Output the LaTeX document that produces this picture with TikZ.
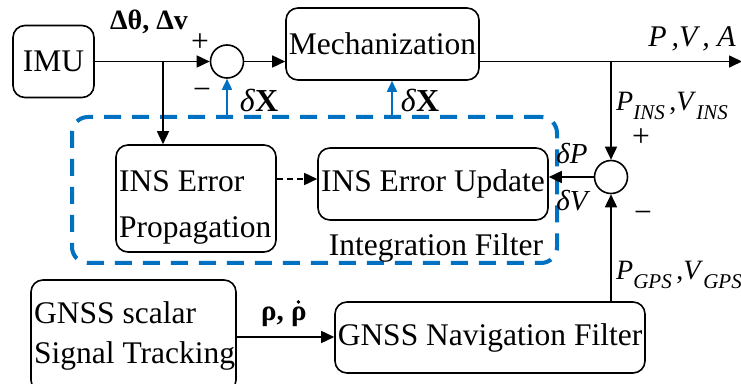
\documentclass[tikz,border=0pt]{standalone}
\usepackage{fontspec}
\setmainfont{Liberation Serif}
\usetikzlibrary{arrows.meta}
\definecolor{fblue}{RGB}{0,112,192}
\newcommand\mysub[1]{\raisebox{-0.34em}{\fontsize{21}{21}\selectfont\itshape #1}}

\begin{document}
\begin{tikzpicture}[x=1pt,y=1pt,
  font=\fontsize{31.5}{36}\selectfont,
  blk/.style={draw, line width=1.6pt, rounded corners=12pt, inner sep=0pt},
  sumc/.style={draw, circle, line width=1.6pt, minimum size=33pt, inner sep=0pt},
  sig/.style={line width=1.6pt, -{Triangle[length=13pt,width=12pt]}},
  dsig/.style={sig, dash pattern=on 6pt off 4pt},
  bsig/.style={fblue, line width=1.6pt, -{Triangle[length=11pt,width=10pt]}},
  lbl/.style={inner sep=0pt},
  sml/.style={lbl, font=\fontsize{28}{30}\selectfont}]
\useasboundingbox (0,0) rectangle (741,383);

% integration filter frame
\node[draw=fblue, line width=4pt, dash pattern=on 17pt off 11pt,
      rounded corners=16pt, minimum width=485pt, minimum height=146pt]
      (ifbox) at (314.5,193) {};

% blocks
\node[blk, minimum width=81pt, minimum height=72pt] (imu) at (53.5,321.5) {IMU};
\node[sumc] (sum1) at (227,321.5) {};
\node[blk, minimum width=193pt, minimum height=72pt] (mech) at (382.5,339) {Mechanization};
\node[blk, minimum width=160pt, minimum height=107pt] (prop) at (196,184.5) {};
\node[lbl, anchor=base west] (propa) at (119,191) {INS Error};
\node[lbl, anchor=base west] (propb) at (119,145) {Propagation};
\node[blk, minimum width=230pt, minimum height=72pt] (upd) at (433,199) {INS Error Update};
\node[sumc] (sum2) at (611,206) {};
\node[blk, minimum width=310pt, minimum height=71pt] (nav) at (490,45.5) {GNSS Navigation Filter};
\node[blk, minimum width=205pt, minimum height=112pt] (trk) at (133.5,47) {};
\node[lbl, anchor=base west] (trka) at (34,60) {GNSS scalar};
\node[lbl, anchor=base west] (trkb) at (34,20) {Signal Tracking};

% signal paths
\coordinate (br1) at (163,321.5);
\coordinate (br2) at (611,321.5);
\coordinate (out) at (742,321.5);
\draw[sig] (imu.east) -- (sum1.west);
\draw[sig] (br1) -- (br1 |- prop.north);
\draw[sig] (sum1.east) -- (sum1.east -| mech.west);
\draw[sig] (mech.east |- br2) -- (out);
\draw[sig] (br2) -- (sum2.north);
\draw[sig] (sum2.west) -- (sum2.west -| upd.east);
\draw[sig] (sum2 |- nav.north) -- (sum2.south);
\draw[sig] ([yshift=-1pt]trk.east) -- ([yshift=-1pt]trk.east -| nav.west);
\draw[dsig] ([yshift=19.5pt]prop.east) -- ([yshift=19.5pt]prop.east -| upd.west);
\draw[bsig] (sum1 |- ifbox.north) -- (sum1.south);
\draw[bsig] ([xshift=9.5pt]mech.south |- ifbox.north) -- ([xshift=9.5pt]mech.south);

% labels
\node[lbl, font=\fontsize{28}{32}\selectfont\bfseries] (ldv) at (149,361) {Δθ, Δv};
\node[lbl] (lp1) at (200,340) {+};
\node[lbl] (lm1) at (202,289) {−};
\node[lbl, font=\fontsize{32}{34}\selectfont] (dx1) at (259,283) {\textit{δ}\textbf{X}};
\node[lbl, font=\fontsize{32}{34}\selectfont] (dx2) at (420,283) {\textit{δ}\textbf{X}};
\node[lbl, font=\fontsize{30}{34}\selectfont\itshape] (lpva) at (692,344) {P\,,V\,, A};
\node[sml, anchor=west] (lins) at (616,277) {\textit{P}\mysub{INS}\,,\textit{V}\mysub{INS}};
\node[lbl] (lp2) at (641,245) {+};
\node[lbl] (lm2) at (643,166) {−};
\node[lbl, font=\fontsize{29}{30}\selectfont\itshape] (ldp) at (572,229) {δP};
\node[lbl, font=\fontsize{29}{30}\selectfont\itshape] (ldvv) at (572,182) {δV};
\node[sml, anchor=west] (lgps) at (616,108) {\textit{P}\mysub{GPS}\,,\textit{V}\mysub{GPS}};
\node[lbl, font=\fontsize{29}{32}\selectfont\bfseries] (lrho) at (284,66) {ρ, ρ};
% time-derivative dot over the second rho
\fill ([xshift=-8.5pt,yshift=5pt]lrho.north east) circle (1.9pt);
\node[lbl, anchor=base] (lif) at (436,128) {Integration Filter};
\end{tikzpicture}
\end{document}
